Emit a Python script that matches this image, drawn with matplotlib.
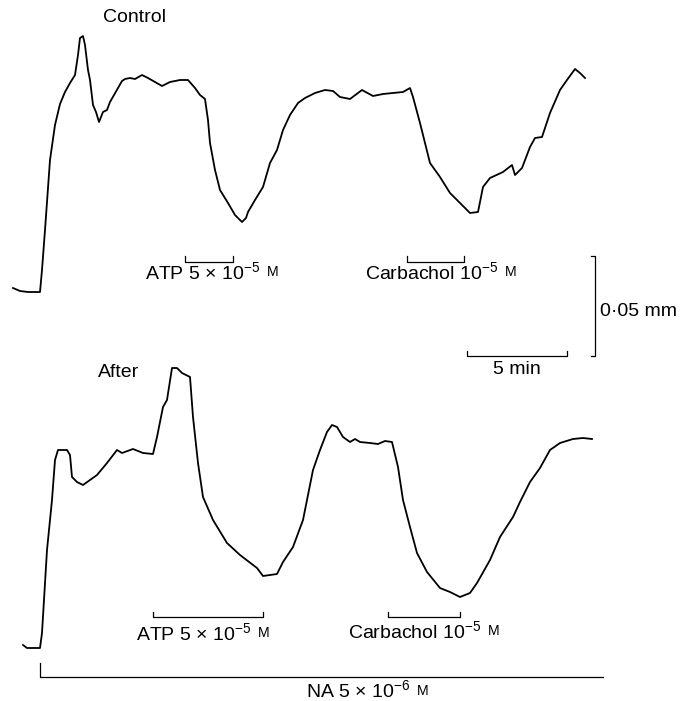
import matplotlib
matplotlib.use("Agg")
import matplotlib.pyplot as plt

plt.rcParams["font.family"] = ["Liberation Sans", "DejaVu Sans"]
plt.rcParams["mathtext.default"] = "regular"

# time in min, displacement in micrometres (baseline = 0)
control_t = [0.65, 1.0, 1.4, 2.0, 2.1, 2.25, 2.4, 2.5, 2.75, 3.0, 3.25, 3.5, 3.75, 3.9, 4.0, 4.15,
             4.25, 4.4, 4.5, 4.65, 4.8, 4.95, 5.15, 5.35, 5.5, 5.7, 5.9, 6.1, 6.25, 6.5, 6.75,
             7.1, 7.4, 7.75, 8.1, 8.5, 9.0, 9.4, 9.75, 10.0, 10.25, 10.4, 10.5, 10.75, 11.0,
             11.4, 11.75, 12.1, 12.3, 12.4, 12.75, 13.15, 13.5, 13.85, 14.15, 14.5, 14.9,
             15.25, 15.75, 16.25, 16.65, 17.0, 17.5, 18.1, 18.65, 19.15, 19.65, 20.15, 20.5,
             20.65, 21.0, 21.5, 22.0, 22.5, 23.0, 23.5, 23.9, 24.15, 24.5, 25.15, 25.6, 25.75,
             26.1, 26.5, 26.75, 27.1, 27.5, 28.0, 28.35, 28.75, 29.0, 29.25]
control_v = [2, 0.5, 0, 0, 11, 31, 52, 66, 83.5, 94, 100, 104.5, 108.5, 118.5, 127, 128,
             123.5, 111, 106, 93.5, 90, 85, 90, 91, 95, 98.5, 102, 105.5, 106.5, 107, 106.5,
             108.5, 107, 105, 103, 105, 106, 106, 102, 98.5, 96.5, 86, 74.5, 61, 51,
             44.5, 38.5, 35, 37, 40, 46, 52.5, 64.5, 71, 81, 88.5, 94.5,
             97, 99.5, 101, 100.5, 97.5, 96.5, 101, 98, 99, 99.5, 100, 102,
             97.5, 84.5, 64.5, 57.5, 49.5, 44.5, 39.5, 40, 52.5, 57, 60, 63.5, 58.5,
             62, 72.5, 77, 77.5, 89.5, 101, 106, 111.5, 109.5, 107]

after_t = [1.15, 1.35, 2.0, 2.1, 2.35, 2.6, 2.75, 2.9, 3.35, 3.5, 3.6, 3.85, 4.15, 4.5, 4.85,
           5.35, 5.85, 6.1, 6.65, 7.15, 7.65, 7.85, 8.15, 8.35, 8.6, 8.85, 9.1, 9.5, 9.65,
           9.9, 10.15, 10.65, 11.35, 12.0, 12.85, 13.15, 13.85, 14.15, 14.65, 15.15, 15.65,
           16.0, 16.35, 16.6, 16.85, 17.15, 17.5, 17.75, 18.0, 18.5, 18.9, 19.25, 19.6, 19.9,
           20.15, 20.5, 20.85, 21.35, 22.0, 22.5, 23.0, 23.5, 23.85, 24.5, 25.0, 25.65, 26.0,
           26.5, 27.0, 27.5, 28.0, 28.65, 29.15, 29.6]
after_v = [1.5, 0, 0, 7.5, 49, 74, 94, 99, 99, 96.5, 85.5, 83, 81.5, 84, 86.5,
           92.5, 99, 97.5, 99.5, 97.5, 97, 105.5, 120.5, 124, 140, 140, 137.5, 135.5, 115.5,
           92.5, 75.5, 64, 52.5, 46.5, 40, 36, 37, 43, 50.5, 64, 89,
           99, 108, 111.5, 110.5, 105.5, 103, 104.5, 103, 102.5, 102, 103.5, 103, 90.5,
           74, 60.5, 47.5, 38, 30, 28, 25.5, 27.5, 32.5, 44, 55.5, 65.5, 73,
           83, 90, 99, 102.5, 104.5, 105, 104.5]

# drug application periods (min)
control_atp = (9.25, 11.65)
control_carb = (20.35, 23.2)
after_atp = (7.65, 13.15)
after_carb = (19.4, 23.0)
na_period = (2.0, 30.15)

FS = 14
LW = 1.3

fig = plt.figure(figsize=(6.86, 7.01), dpi=100)
ax1 = fig.add_axes([0, 1 - 380 / 701, 1, 380 / 701])
ax2 = fig.add_axes([0, 0, 1, 351 / 701])
ax1.set_xlim(0, 34.3); ax1.set_ylim(-44, 146)
ax2.set_xlim(0, 34.3); ax2.set_ylim(-26.5, 149)
for a in (ax1, ax2):
    a.axis("off")

ax1.plot(control_t, control_v, color="black", lw=LW, clip_on=False)
ax2.plot(after_t, after_v, color="black", lw=LW, clip_on=False)


def bracket(ax, span, y, h, up=True):
    s = 1 if up else -1
    ax.plot([span[0], span[0], span[1], span[1]], [y + s * h, y, y, y + s * h],
            color="black", lw=0.9, clip_on=False)


def label(ax, x, y, txt, ha="left"):
    t = ax.text(x, y, txt, fontsize=FS, ha=ha, va="center", clip_on=False)
    ax.annotate("M", xy=(1, 0.18), xycoords=t, xytext=(5, 0), textcoords="offset points",
                fontsize=FS * 0.72, ha="left", va="bottom")
    return t


ax1.text(5.15, 137.5, "Control", fontsize=FS, ha="left", va="center")
ax2.text(4.9, 138, "After", fontsize=FS, ha="left", va="center")

bracket(ax1, control_atp, 15, 3)
bracket(ax1, control_carb, 15, 3)
label(ax1, 7.25, 10, "ATP 5 $\\times$ 10$^{-5}$")
label(ax1, 18.25, 10, "Carbachol 10$^{-5}$")

bracket(ax2, after_atp, 15.5, 2.5)
bracket(ax2, after_carb, 15.5, 2.5)
label(ax2, 6.8, 7.5, "ATP 5 $\\times$ 10$^{-5}$")
label(ax2, 17.4, 8.5, "Carbachol 10$^{-5}$")

# NA bar
ax2.plot([na_period[0], na_period[0], na_period[1]], [-7.5, -14.5, -14.5],
         color="black", lw=0.9, clip_on=False)
label(ax2, 15.3, -21.3, "NA 5 $\\times$ 10$^{-6}$")

# scale bars: 0.05 mm (50 um) and 5 min
ax1.plot([29.55, 29.75, 29.75, 29.55], [18, 18, -32, -32], color="black", lw=0.9, clip_on=False)
ax1.text(30.0, -9.5, "0·05 mm", fontsize=FS, ha="left", va="center")
ax1.plot([23.35, 23.35, 28.35, 28.35], [-29.5, -32, -32, -29.5], color="black", lw=0.9,
         clip_on=False)
ax1.text(25.85, -38.5, "5 min", fontsize=FS, ha="center", va="center")

fig.savefig("out.png", dpi=100, facecolor="white")
